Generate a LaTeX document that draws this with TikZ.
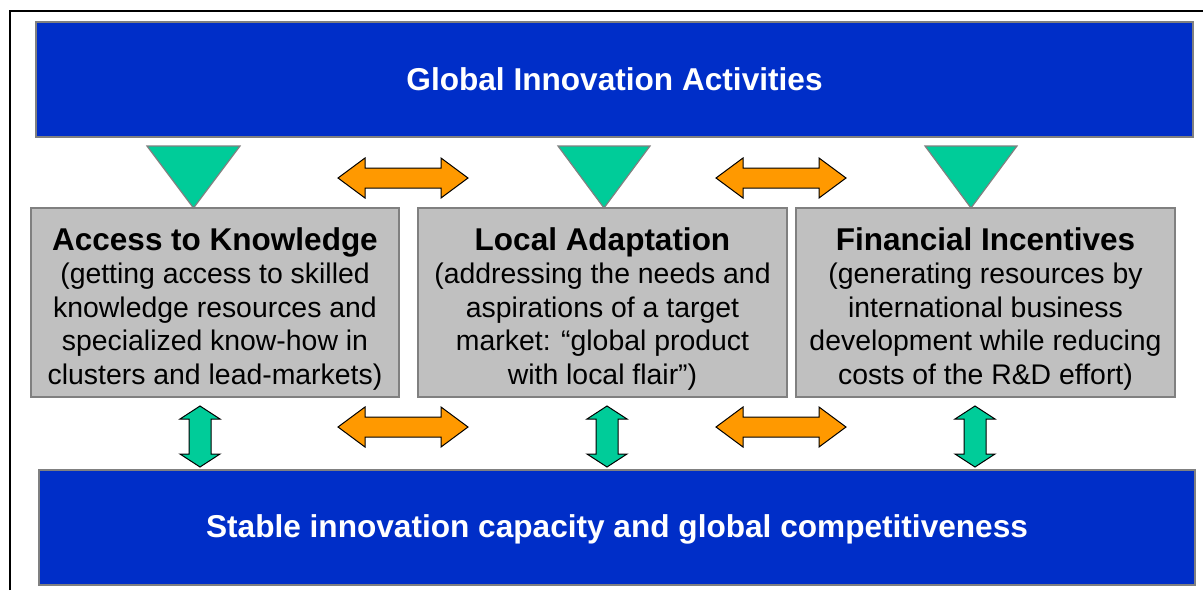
\documentclass[tikz,border=0pt]{standalone}
\usepackage{fontspec}
\setmainfont{Liberation Sans}
\definecolor{giablue}{RGB}{0,46,200}
\definecolor{edgegray}{RGB}{128,128,128}
\definecolor{boxfill}{RGB}{192,192,192}
\definecolor{seagreen}{RGB}{0,204,153}
\definecolor{amber}{RGB}{255,153,0}

\newcommand{\headfont}{\fontsize{31.5}{33.5}\selectfont\bfseries\rule{0pt}{35.5pt}}
\newcommand{\sidearrow}[2]{%
  \draw[sidearr, shift={(#1,#2)}] (-65,0) -- (-38,-20) -- (-38,-10) -- (38,-10) -- (38,-20)
    -- (65,0) -- (38,20) -- (38,10) -- (-38,10) -- (-38,20) -- cycle;}
\newcommand{\vertarrow}[2]{%
  \draw[updown, shift={(#1,#2)}] (0,-30.5) -- (20,-17.5) -- (11,-17.5) -- (11,17.5) -- (20,17.5)
    -- (0,30.5) -- (-20,17.5) -- (-11,17.5) -- (-11,-17.5) -- (-20,-17.5) -- cycle;}

\begin{document}
\begin{tikzpicture}[x=1pt, y=-1pt,
    bluebox/.style={draw=edgegray, fill=giablue, line width=1.5pt, text=white,
      font=\fontsize{31.6}{36}\selectfont\bfseries},
    areabox/.style={draw=edgegray, fill=boxfill, line width=1.5pt, align=center,
      minimum height=189, font=\fontsize{28.4}{33.5}\selectfont},
    tri/.style={draw=edgegray, fill=seagreen, line width=1.2pt},
    sidearr/.style={draw=black, fill=amber, line width=1pt, line join=miter},
    updown/.style={draw=black, fill=seagreen, line width=1pt, line join=miter}]
    \useasboundingbox (0,0) rectangle (1203,590);

    % frame
    \draw[line width=2pt] (10,590) -- (10,11) -- (1203,11);

    % top and bottom bars
    \node[bluebox, minimum width=1157, minimum height=115] (gia) at (614.5,79.5) {Global Innovation Activities};
    \node[bluebox, minimum width=1156, minimum height=115] (sic) at (617,527.5) {\rule{0pt}{26pt}Stable innovation capacity and global competitiveness};

    % the three areas
    \node[areabox, minimum width=368] (know) at (215,302.5)
      {{\headfont Access to Knowledge}\\(getting access to skilled\\knowledge resources and\\specialized know-how in\\clusters and lead-markets)};
    \node[areabox, minimum width=369] (adapt) at (602.5,302.5)
      {{\headfont Local Adaptation}\\(addressing the needs and\\aspirations of a target\\market: “global product\\with local flair”)};
    \node[areabox, minimum width=379] (fin) at (985.5,302.5)
      {{\headfont Financial Incentives}\\(generating resources by\\international business\\development while reducing\\costs of the R\&D effort)};

    % triangles
    \draw[tri] (147,146) -- (240,146) -- (193.5,208) -- cycle;
    \draw[tri] (558,146) -- (650,146) -- (604,208) -- cycle;
    \draw[tri] (925,146) -- (1017,146) -- (971,208) -- cycle;

    % orange arrows
    \sidearrow{403}{178}
    \sidearrow{781}{178}
    \sidearrow{403}{427}
    \sidearrow{781}{427}

    % green arrows
    \vertarrow{200}{436.5}
    \vertarrow{607}{436.5}
    \vertarrow{975}{436.5}
\end{tikzpicture}
\end{document}
